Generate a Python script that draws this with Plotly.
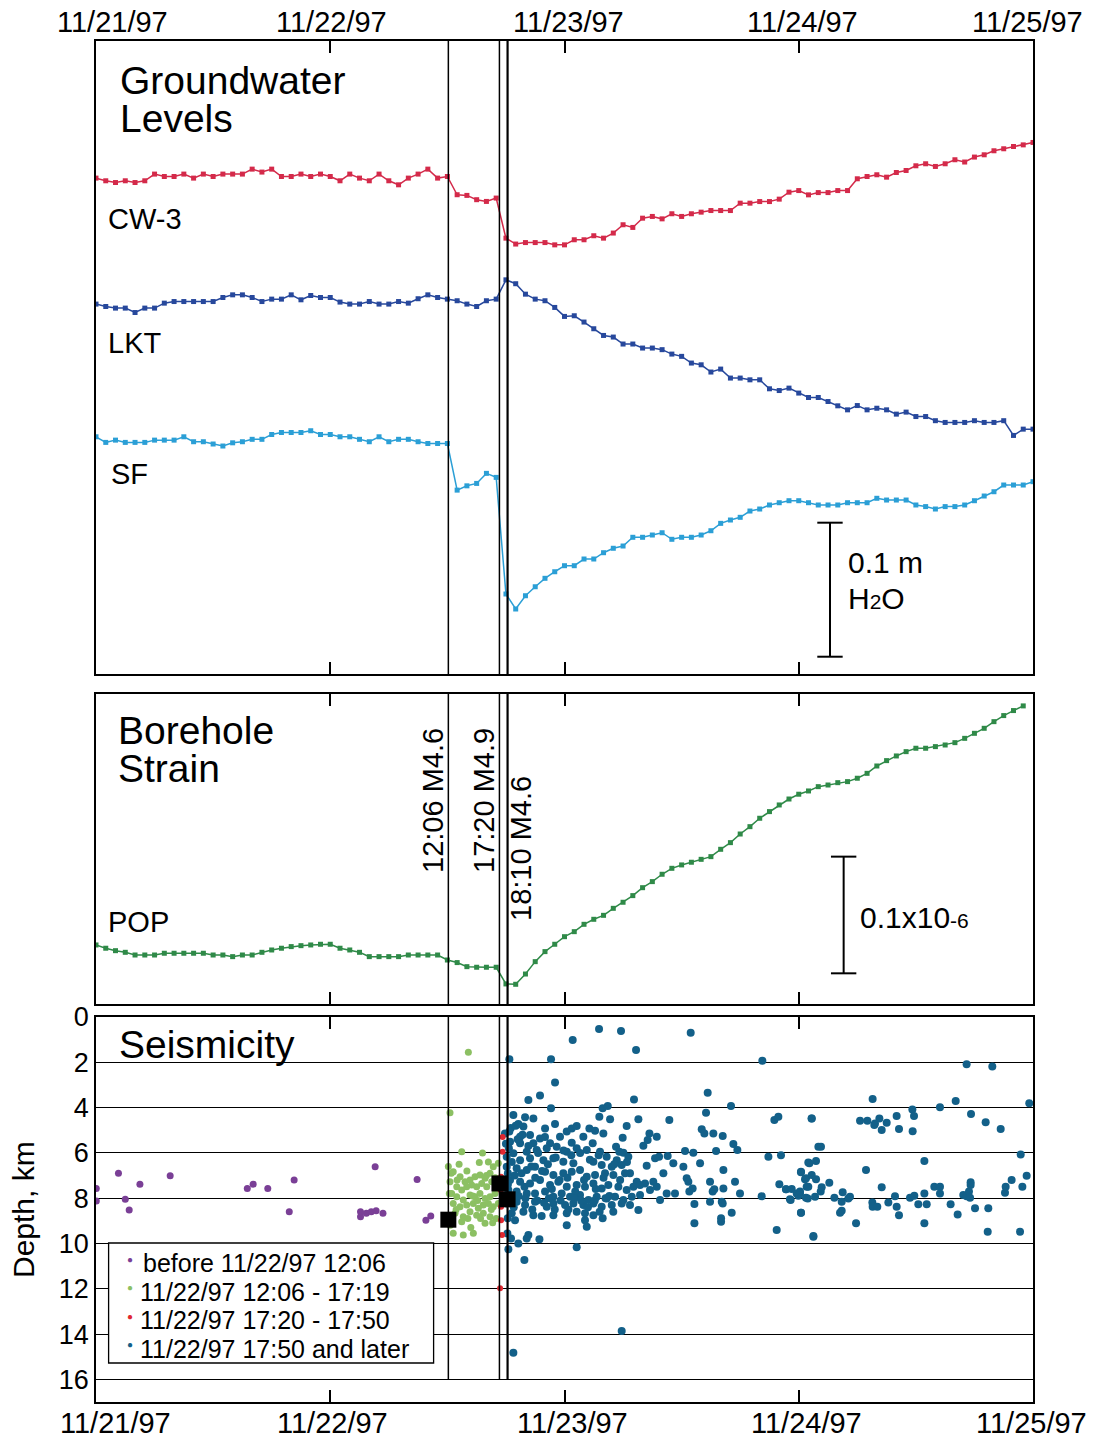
import plotly.graph_objects as go

# ---------------- DATA ----------------
# hourly samples, hours since 11/21/97 00:00
hours = list(range(97))

# groundwater level change (mm, relative to first sample)
cw3_mm = [0, -2.0, -3.3, -2.0, -3.3, -2.0, 3.0, 1.2, 1.2, 3.0, 0, 3.0, 1.2, 3.0, 3.0, 3.0, 6.7, 4.5, 6.7, 1.2,
          1.2, 3.0, 1.2, 3.0, 1.2, -2.0, 3.0, 0, -2.0, 3.0, -2.0, -5.0, 0, 3.0, 6.7, 0, 1.2, -12.4, -12.9, -16.1,
          -17.4, -14.9, -44.8, -49.2, -48.1, -48.1, -48.1, -49.8, -49.8, -46.0, -46.0, -43.0, -44.8, -41.0, -34.8,
          -36.8, -29.9, -28.6, -30.4, -26.6, -28.6, -26.6, -25.4, -24.2, -24.2, -24.2, -18.7, -18.7, -17.5, -17.5,
          -15.7, -10.5, -9.3, -12.5, -10.8, -10.8, -9.3, -9.3, -0.5, 1.2, 2.5, 0.7, 4.2, 5.7, 9.2, 10.7, 8.7, 10.7,
          13.7, 12.0, 15.7, 17.4, 20.4, 21.9, 23.6, 24.8, 26.6]
lkt_mm = [0, -1.8, -3.0, -3.0, -6.3, -3.0, -3.0, 0.7, 1.9, 1.9, 1.9, 1.9, 1.9, 4.9, 6.9, 6.9, 4.9, 1.9, 3.7, 3.7,
          6.9, 3.2, 6.4, 4.9, 4.9, 1.5, 0, 0, 1.9, 0, 0, 1.9, 0.7, 4.0, 6.9, 4.9, 3.7, 2.5, 0, -1.8,
          2.5, 3.7, 18.1, 15.2, 7.4, 3.7, 2.5, -2.5, -9.2, -8.7, -13.4, -18.4, -23.4, -24.6, -29.8, -29.8, -32.8,
          -32.8, -34.0, -37.3, -39.0, -44.0, -45.3, -50.7, -48.5, -55.2, -55.2, -56.5, -56.5, -63.2, -64.5, -62.7,
          -66.4, -69.7, -69.7, -72.7, -75.9, -78.9, -75.7, -78.9, -77.7, -78.9, -82.1, -80.6, -83.9, -83.9, -87.0,
          -88.3, -88.3, -88.3, -87.0, -88.3, -88.3, -87.0, -98.0, -93.3, -93.3]
sf_mm = [0, -4.2, -2.5, -4.2, -4.2, -4.2, -2.5, -2.5, -2.5, 0, -3.7, -3.7, -5.4, -6.9, -4.5, -3.7, -1.9, -1.9, 1.7,
         3.2, 3.2, 3.2, 4.5, 1.7, 1.7, 0, 0, -1.9, -3.7, 0, -3.7, -1.9, -1.9, -3.7, -5.0, -5.0, -5.0, -39.8, -36.6,
         -34.8, -27.3, -30.3, -117.3, -128.5, -118.6, -111.9, -105.6, -100.7, -96.2, -96.2, -91.2, -91.2, -86.5,
         -83.2, -81.5, -75.0, -75.0, -73.3, -71.6, -76.5, -75.0, -75.0, -73.3, -70.1, -64.6, -62.1, -60.1, -55.4,
         -53.9, -50.9, -49.2, -47.7, -47.7, -49.2, -50.9, -50.9, -50.9, -49.2, -49.2, -49.2, -45.9, -47.2, -47.2,
         -47.2, -50.9, -52.1, -53.9, -52.1, -52.1, -50.9, -47.7, -44.2, -41.0, -36.0, -36.0, -36.0, -33.5]

# borehole strain POP (nanostrain, relative to first sample)
pop_hours = list(range(96))
pop_ns = [0, -2.8, -4.9, -6.3, -8.6, -8.6, -8.6, -7.1, -7.1, -7.1, -7.1, -7.1, -8.6, -8.6, -10.0, -8.6, -8.6, -6.3,
          -4.3, -2.8, -1.4, -0.6, 0, 0.6, 0.6, -2.8, -4.3, -6.3, -10.0, -10.0, -10.0, -10.0, -8.6, -8.6, -8.6, -8.6,
          -12.9, -15.1, -18.6, -19.1, -19.1, -19.1, -33.4, -33.7, -24.9, -14.3, -5.7, 0.6, 7.1, 11.4, 17.7, 22.0,
          25.4, 31.4, 36.6, 42.3, 49.1, 54.3, 60.6, 65.7, 68.6, 70.9, 73.4, 75.7, 82.0, 87.7, 95.1, 101.4, 108.6,
          114.3, 120.0, 125.1, 129.2, 132.0, 135.7, 137.1, 139.1, 140.0, 142.9, 147.1, 153.4, 158.0, 162.0, 165.7,
          168.6, 168.6, 170.0, 171.4, 173.4, 177.1, 181.4, 185.7, 191.4, 196.6, 200.9, 204.9]

# earthquakes (hours since 11/21/97 00:00, depth km)
event_hours = [36.1, 41.333, 42.167]
event_labels = ["12:06 M4.6", "17:20 M4.9", "18:10 M4.6"]
main_depths = [8.95, 7.35, 8.05]

purple_h = [0.03, 0.03, 2.3, 3.0, 3.4, 4.5, 7.6, 15.5, 16.1, 17.6, 19.8, 20.3, 27.1, 27.1, 27.7, 28.2, 28.6, 28.7,
            29.4, 32.9, 33.8, 34.3]
purple_d = [7.57, 8.13, 6.9, 8.05, 8.52, 7.38, 7.01, 7.57, 7.38, 7.57, 8.6, 7.2, 8.6, 8.82, 8.67, 8.6, 6.61, 8.55,
            8.67, 7.17, 8.97, 8.79]

green_h = [38.15, 36.27, 37.47, 36.1, 39.27, 40.7, 41.22, 36.6, 37.3, 37.81, 38.32, 38.83, 39.34, 39.86, 40.37,
           36.27, 36.96, 37.47, 37.98, 38.49, 39.0, 39.52, 40.03, 40.54, 36.44, 36.96, 37.63, 38.32, 38.83, 39.34,
           39.86, 40.37, 40.88, 36.6, 37.3, 37.98, 38.66, 39.17, 39.68, 40.2, 40.7, 36.78, 37.63, 38.32, 39.0, 39.68,
           40.37, 37.47, 39.86, 36.6, 37.63, 40.64, 36.2, 41.22, 38.66, 36.4, 37.0, 38.0, 38.6, 39.1, 40.0, 40.9,
           41.1, 36.9, 38.1, 39.4, 40.5, 37.2, 39.6, 36.3, 38.4, 41.0, 40.2]
green_d = [1.56, 4.23, 5.95, 6.6, 6.42, 6.61, 6.46, 6.83, 7.05, 7.27, 7.2, 7.05, 6.98, 7.12, 6.9,
           7.27, 7.5, 7.64, 7.5, 7.42, 7.5, 7.35, 7.5, 7.27, 7.79, 7.94, 8.08, 7.86, 7.94, 7.79,
           8.01, 7.94, 7.79, 8.23, 8.38, 8.3, 8.23, 8.45, 8.3, 8.23, 8.38, 8.67, 8.82, 8.6, 8.75, 8.67,
           8.82, 9.04, 9.11, 9.55, 9.63, 9.08, 7.79, 8.23, 9.55, 6.9, 7.2, 6.8, 7.9, 8.1, 7.0, 7.1,
           7.6, 8.5, 8.9, 8.9, 8.5, 6.5, 6.0, 9.2, 9.3, 8.9, 6.4]

red_h = [41.66, 41.66, 41.5, 41.45, 41.5, 41.5, 41.6, 41.4, 41.55, 41.7]
red_d = [5.3, 5.95, 7.05, 7.64, 8.38, 8.97, 9.63, 11.98, 7.3, 8.1]

blue_h = [51.54, 53.79, 48.84, 55.33, 60.93, 42.35, 46.62, 68.27, 47.03, 62.67, 44.3, 45.49, 55.12, 65.06, 46.62,
          51.91, 52.43, 62.5, 42.76, 43.96, 44.81, 51.57, 52.67, 55.57, 58.74, 69.5, 69.91, 73.33, 43.27, 47.03,
          54.37, 62.06, 63.25, 64.21, 62.33, 56.7, 57.45, 50.55, 51.13, 51.98, 48.74, 49.25, 48.23, 46.01, 43.79,
          42.35, 41.9, 43.45, 44.47, 45.49, 47.54, 49.93, 53.96, 56.08, 56.52, 46.52, 44.81, 43.45, 42.42, 48.74,
          50.89, 53.28, 53.62, 54.03, 65.3, 65.71, 63.53, 61.2, 60.35, 58.57, 57.69, 68.89, 70.18, 72.98, 74.01,
          42.76, 44.13, 45.15, 46.18, 47.2, 48.23, 49.25, 50.28, 51.64, 52.32, 53.35, 54.54, 42.08, 43.45, 44.47,
          45.84, 46.86, 47.88, 48.91, 50.96, 51.81, 52.84, 53.86, 54.71, 56.42, 57.28, 59.15, 60.18, 61.89, 64.28,
          72.23, 72.75, 73.33, 42.08, 43.1, 44.13, 44.98, 46.01, 46.86, 47.88, 48.74, 49.59, 50.28, 51.13, 52.15,
          53.01, 54.2, 55.4, 56.25, 57.1, 58.13, 60.52, 60.69, 62.91, 65.47, 70.01, 70.7, 72.13, 72.81, 42.42,
          43.45, 44.47, 45.49, 46.52, 47.37, 48.23, 49.25, 50.1, 50.96, 51.81, 52.49, 53.52, 54.37, 55.06, 55.74,
          56.76, 57.45, 58.47, 59.32, 60.79, 61.13, 63.18, 63.35, 64.28, 65.98, 68.2, 71.17, 72.92, 73.67, 42.25,
          43.1, 44.13, 44.98, 46.01, 46.86, 47.71, 48.57, 49.59, 50.45, 51.3, 52.32, 53.18, 54.03, 54.89, 55.74,
          57.79, 62.91, 64.11, 61.31, 64.21, 42.08, 43.1, 43.96, 44.98, 46.18, 46.86, 48.06, 48.91, 49.93, 50.96,
          51.81, 52.84, 53.86, 54.71, 55.57, 65.13, 72.23, 42.59, 43.79, 44.81, 45.66, 46.86, 48.23, 49.25, 50.1,
          50.96, 51.91, 50.1, 48.23, 50.28, 42.18, 42.93, 61.31, 64.04, 64.04, 69.74, 73.5, 42.15, 42.52, 43.27,
          44.3, 44.13, 45.43, 49.25, 43.89, 42.25, 53.86, 42.76,
          42.3, 42.6, 42.9, 43.2, 43.6, 43.9, 44.3, 44.6, 45.0, 45.3, 45.7, 46.0, 46.3, 46.7, 47.1, 47.5, 47.9,
          48.3, 48.7, 49.1, 49.6, 50.0, 50.6, 51.2, 51.5, 52.0, 52.6, 53.1, 53.7, 54.4, 42.4, 42.8, 43.3, 44.0,
          44.7, 45.2, 45.9, 46.4, 47.0, 47.6, 48.4, 49.0, 49.7, 50.4, 51.1, 51.6, 52.2, 53.0, 42.2, 42.2, 42.0,
          42.5, 43.0, 43.7,
          89.2, 91.83, 79.57, 88.08, 95.62, 86.47, 83.64, 82.03, 83.81, 89.65, 73.32, 78.28, 79.03, 79.81, 80.26,
          81.01, 79.74, 80.5, 82.27, 83.67, 91.15, 92.69, 74.28, 94.74, 84.87, 73.09, 73.77, 78.89, 72.23, 72.64,
          73.77, 95.35, 75.13, 93.81, 93.2, 94.91, 89.61, 89.61, 70.69, 71.28, 85.89, 86.47, 72.98, 74.35, 74.25,
          80.5, 76.5, 93.13, 71.79, 72.13, 71.1, 71.96, 72.74, 75.65, 76.4, 77.25, 77.08, 79.54, 81.86, 83.4,
          83.84, 84.87, 86.47, 88.86, 89.2, 89.44, 89.55, 79.57, 80.05, 81.18, 82.03, 84.25, 85.11, 87.56, 90.06,
          91.42, 72.23, 76.4, 76.23, 82.27, 88.28, 77.87, 84.87, 73.5, 91.36, 94.67]
blue_d = [0.53, 0.62, 1.02, 1.46, 0.69, 1.87, 1.87, 1.93, 2.89, 3.34, 3.67, 3.47, 3.64, 3.93, 4.03,
          4.03, 3.93, 4.23, 4.33, 4.43, 4.48, 4.4, 4.51, 4.51, 4.55, 4.55, 4.4, 4.48, 4.73, 4.73,
          4.81, 4.96, 5.14, 5.26, 5.14, 5.14, 5.29, 4.92, 5.02, 5.14, 4.92, 4.81, 5.06, 4.92, 4.84,
          5.06, 5.14, 5.29, 5.21, 5.36, 5.29, 5.29, 5.33, 5.68, 5.43, 5.58, 5.58, 5.58, 5.51, 5.55,
          5.58, 5.73, 5.95, 5.99, 5.61, 5.87, 5.92, 5.99, 5.92, 6.14, 6.17, 6.17, 6.1, 6.43, 5.73,
          6.02, 5.95, 5.87, 5.8, 5.73, 5.95, 5.8, 5.87, 5.95, 6.17, 6.32, 6.17, 6.17, 6.32, 6.24,
          6.32, 6.24, 6.39, 6.46, 6.39, 6.54, 6.61, 6.54, 6.9, 6.57, 6.24, 6.46, 6.61, 6.46, 6.76,
          6.83, 7.12, 6.98, 6.61, 6.68, 6.76, 6.61, 6.83, 6.98, 6.9, 6.83, 6.76, 7.05, 6.98, 6.9,
          6.98, 6.9, 7.27, 7.35, 7.27, 6.9, 7.12, 7.27, 7.27, 7.27, 7.39, 7.61, 7.79, 7.49, 7.2,
          7.27, 7.35, 7.2, 7.42, 7.27, 7.49, 7.42, 7.49, 7.35, 7.57, 7.42, 7.49, 7.64, 7.49, 7.42,
          7.64, 7.49, 7.79, 7.79, 7.71, 7.57, 7.71, 7.61, 7.57, 7.79, 7.91, 8.08, 8.01, 7.94, 7.64,
          7.71, 7.79, 7.79, 7.71, 7.94, 7.79, 7.94, 7.86, 8.08, 7.94, 8.01, 7.94, 8.08, 7.94, 7.86,
          8.08, 8.16, 8.16, 8.26, 8.23, 8.23, 8.16, 8.3, 8.16, 8.38, 8.23, 8.3, 8.23, 8.3, 8.23,
          8.38, 8.3, 8.23, 8.3, 8.52, 8.64, 8.64, 8.67, 8.6, 8.75, 8.79, 8.75, 8.67, 8.6, 8.67,
          8.75, 8.89, 8.97, 9.19, 9.26, 8.89, 8.97, 9.11, 8.89, 9.04, 9.41, 9.67, 9.56, 9.78, 10.0,
          9.63, 9.78, 9.81, 10.17, 10.73, 10.26, 13.87, 14.83,
          5.8, 6.4, 7.0, 5.4, 6.9, 7.5, 5.7, 6.6, 7.1, 6.0, 6.8, 5.3, 6.5, 7.6, 6.2, 7.2, 5.9,
          7.1, 6.1, 7.7, 6.0, 7.2, 6.3, 7.6, 6.1, 7.1, 7.9, 6.5, 7.2, 6.4, 8.0, 8.4, 7.9, 8.0,
          8.5, 8.1, 8.2, 8.0, 8.5, 8.1, 8.5, 8.0, 8.1, 8.4, 8.1, 8.6, 8.0, 8.6, 6.9, 7.4, 5.6,
          4.9, 4.8, 5.2,
          2.09, 2.19, 3.62, 3.71, 3.81, 3.99, 4.08, 4.37, 4.37, 4.28, 4.48, 4.58, 4.58, 4.7, 4.48,
          4.67, 4.77, 4.99, 4.95, 5.04, 4.65, 4.95, 5.73, 6.07, 6.36, 6.46, 6.36, 6.76, 6.86, 7.16,
          7.16, 7.01, 7.32, 7.2, 7.49, 7.49, 7.3, 7.42, 7.61, 7.6, 7.49, 7.49, 7.49, 7.52, 7.71,
          7.52, 7.74, 7.76, 7.79, 7.71, 8.05, 7.89, 7.98, 7.98, 8.16, 7.94, 8.01, 8.19, 7.91, 7.98,
          7.89, 7.79, 7.79, 7.86, 7.91, 7.71, 7.98, 8.38, 8.38, 8.19, 8.38, 8.27, 8.27, 8.27, 8.45,
          8.45, 8.64, 8.55, 8.64, 8.75, 8.72, 9.11, 9.11, 9.7, 9.48, 9.48]

date_tick_hours = [0, 24, 48, 72, 96]
date_labels = ["11/21/97", "11/22/97", "11/23/97", "11/24/97", "11/25/97"]
depth_ticks = [0, 2, 4, 6, 8, 10, 12, 14, 16]
legend_labels = ["before 11/22/97 12:06", "11/22/97 12:06 - 17:19", "11/22/97 17:20 - 17:50",
                 "11/22/97 17:50 and later"]

# ---------------- STYLE / LAYOUT ----------------
W, H = 1097, 1441
L, R, T, B = 96, 64, 41, 39
FONT = "Liberation Sans, Arial, Helvetica, sans-serif"

def px(x):
    return (x - L) / (W - L - R)

def py(y):
    return (H - B - y) / (H - T - B)

C_CW3 = "#d42a4a"
C_LKT = "#27489c"
C_SF = "#2b9fd6"
C_POP = "#2f8a48"
C_PUR = "#7a3f96"
C_GRN = "#8cc063"
C_RED = "#e02830"
C_BLU = "#136089"

off_cw3, off_lkt, off_sf = 370.0, 276.0, 177.0   # stacking offsets (mm)
off_pop = 50.6                                   # stacking offset (nanostrain)

fig = go.Figure()

def series(x, vals, off, color, xa, ya):
    fig.add_trace(go.Scatter(
        x=x, y=[v + off for v in vals], mode="lines+markers", xaxis=xa, yaxis=ya,
        line=dict(color=color, width=1.5),
        marker=dict(symbol="square", size=5, color=color), showlegend=False, hoverinfo="skip"))

series(hours, cw3_mm, off_cw3, C_CW3, "x", "y")
series(hours, lkt_mm, off_lkt, C_LKT, "x", "y")
series(hours, sf_mm, off_sf, C_SF, "x", "y")
series(pop_hours, pop_ns, off_pop, C_POP, "x2", "y2")

def quakes(h, d, color, size):
    fig.add_trace(go.Scatter(x=h, y=d, mode="markers", xaxis="x3", yaxis="y3",
                             marker=dict(color=color, size=size, line=dict(width=0)),
                             showlegend=False, hoverinfo="skip"))

quakes(purple_h, purple_d, C_PUR, 7)
quakes(green_h, green_d, C_GRN, 7)
quakes(blue_h, blue_d, C_BLU, 8)
quakes(red_h, red_d, C_RED, 6)
fig.add_trace(go.Scatter(x=event_hours, y=main_depths, mode="markers", xaxis="x3", yaxis="y3",
                         marker=dict(symbol="square", color="black", size=16),
                         showlegend=False, hoverinfo="skip"))

dom_top = [py(674), 1.0]
dom_mid = [py(1004), py(694)]
dom_bot = [0.0, py(1017)]

xcommon = dict(range=[0, 96], showline=True, linecolor="black", linewidth=1.5, mirror="ticks",
               ticks="inside", ticklen=12, tickwidth=1.5, tickcolor="black",
               tickvals=[24, 48, 72], showticklabels=False, showgrid=False, zeroline=False)
ycommon = dict(showline=True, linecolor="black", linewidth=1.5, mirror=True, ticks="",
               showticklabels=False, showgrid=False, zeroline=False)

fig.update_layout(
    width=W, height=H, margin=dict(l=L, r=R, t=T, b=B),
    paper_bgcolor="white", plot_bgcolor="white", showlegend=False,
    font=dict(family=FONT, color="black"),
    xaxis=dict(domain=[0, 1], anchor="y", **xcommon),
    yaxis=dict(domain=dom_top, range=[0, 472.3], anchor="x", **ycommon),
    xaxis2=dict(domain=[0, 1], anchor="y2", **xcommon),
    yaxis2=dict(domain=dom_mid, range=[0, 265.7], anchor="x2", **ycommon),
    xaxis3=dict(domain=[0, 1], anchor="y3", **xcommon),
    yaxis3=dict(domain=dom_bot, range=[17, 0], anchor="x3", showline=True, linecolor="black",
                linewidth=1.5, mirror=True, ticks="", tickvals=depth_ticks,
                tickfont=dict(size=27, family=FONT, color="black"),
                showgrid=True, gridcolor="black", gridwidth=1.2, zeroline=False),
)

shapes = []
for i, eh in enumerate(event_hours):
    w = 2.2 if i == 2 else 1.5
    shapes.append(dict(type="line", xref="x", yref="y domain", x0=eh, x1=eh, y0=0, y1=1,
                       line=dict(color="black", width=w)))
    shapes.append(dict(type="line", xref="x2", yref="y2 domain", x0=eh, x1=eh, y0=0, y1=1,
                       line=dict(color="black", width=w)))
    shapes.append(dict(type="line", xref="x3", yref="y3", x0=eh, x1=eh, y0=0, y1=16,
                       line=dict(color="black", width=w)))

# scale bars
sb1_x, sb1_y0, sb1_y1, sb1_hw = 75.2, 12.9, 112.9, 1.3
shapes += [
    dict(type="line", xref="x", yref="y", x0=sb1_x, x1=sb1_x, y0=sb1_y0, y1=sb1_y1, line=dict(color="black", width=2)),
    dict(type="line", xref="x", yref="y", x0=sb1_x - sb1_hw, x1=sb1_x + sb1_hw, y0=sb1_y0, y1=sb1_y0, line=dict(color="black", width=2)),
    dict(type="line", xref="x", yref="y", x0=sb1_x - sb1_hw, x1=sb1_x + sb1_hw, y0=sb1_y1, y1=sb1_y1, line=dict(color="black", width=2)),
]
sb2_x, sb2_y0, sb2_y1, sb2_hw = 76.6, 26.3, 126.3, 1.3
shapes += [
    dict(type="line", xref="x2", yref="y2", x0=sb2_x, x1=sb2_x, y0=sb2_y0, y1=sb2_y1, line=dict(color="black", width=2)),
    dict(type="line", xref="x2", yref="y2", x0=sb2_x - sb2_hw, x1=sb2_x + sb2_hw, y0=sb2_y0, y1=sb2_y0, line=dict(color="black", width=2)),
    dict(type="line", xref="x2", yref="y2", x0=sb2_x - sb2_hw, x1=sb2_x + sb2_hw, y0=sb2_y1, y1=sb2_y1, line=dict(color="black", width=2)),
]
# legend box
shapes.append(dict(type="rect", xref="paper", yref="paper", x0=px(108.6), x1=px(433.6),
                   y0=py(1363), y1=py(1243), fillcolor="white", line=dict(color="black", width=1.3),
                   layer="above"))
fig.update_layout(shapes=shapes)

ann = []
def text(x, y, s, size, xanchor="left", angle=0, color="black"):
    ann.append(dict(xref="paper", yref="paper", x=px(x), y=py(y), text=s, showarrow=False,
                    xanchor=xanchor, yanchor="middle", textangle=angle,
                    font=dict(size=size, family=FONT, color=color)))

# panel titles and series labels
text(118, 81, "Groundwater", 39)
text(118, 119, "Levels", 39)
text(106, 219, "CW-3", 29)
text(106, 343, "LKT", 29)
text(109, 474, "SF", 29)
text(116, 730, "Borehole", 39)
text(116, 768, "Strain", 39)
text(106, 922, "POP", 29)
text(117, 1044, "Seismicity", 39)

# scale bar labels
text(846, 562, "0.1 m", 30)
text(846, 598, "H<span style='font-size:21px'>2</span>O", 30)
text(858, 917, "0.1x10<span style='font-size:21px'>-6</span>", 30)

# event labels (rotated)
ev_pos = [(433, 801), (484, 801), (521, 849)]
for (ex, ey), lab in zip(ev_pos, event_labels):
    text(ex, ey, lab, 29, xanchor="center", angle=-90)

# y title
text(23, 1210, "Depth, km", 30, xanchor="center", angle=-90)

# date labels top & bottom
top_shift = [16, 1, 4, 4, -6]
bot_shift = [19, 2, 8, 8, -2]
for hh, lab, s1, s2 in zip(date_tick_hours, date_labels, top_shift, bot_shift):
    ann.append(dict(xref="x", yref="paper", x=hh, y=py(22), text=lab, showarrow=False, xshift=s1,
                    xanchor="center", yanchor="middle", font=dict(size=29, family=FONT, color="black")))
    ann.append(dict(xref="x3", yref="paper", x=hh, y=py(1423), text=lab, showarrow=False, xshift=s2,
                    xanchor="center", yanchor="middle", font=dict(size=29, family=FONT, color="black")))

# legend entries
leg_y = [1263, 1291.5, 1320, 1348.5]
leg_cols = [C_PUR, C_GRN, C_RED, C_BLU]
leg_x = [141, 138, 138, 138]
for lab, yy, cc, lx in zip(legend_labels, leg_y, leg_cols, leg_x):
    text(lx, yy, lab, 25)
    text(130, yy - 4, "●", 10, xanchor="center", color=cc)

fig.update_layout(annotations=ann)

fig.write_html("out.html")
